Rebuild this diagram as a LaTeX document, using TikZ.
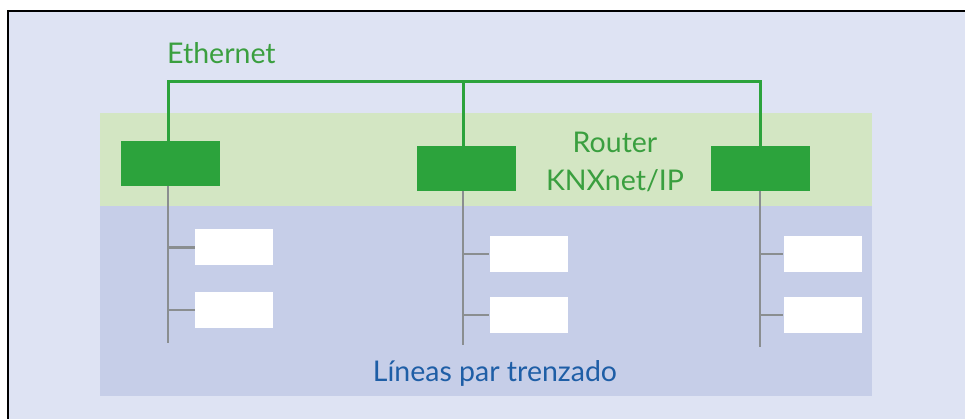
\documentclass[tikz,border=0pt]{standalone}
\usepackage{fontspec}
\setmainfont{Lato}
\definecolor{bgblue}{HTML}{DEE3F3}
\definecolor{bandgreen}{HTML}{D3E6C3}
\definecolor{bandblue}{HTML}{C6CEE8}
\definecolor{knxgreen}{HTML}{2CA33C}
\definecolor{txtgreen}{HTML}{3A9F3F}
\definecolor{txtblue}{HTML}{1E5EA6}
\definecolor{busgrey}{HTML}{8A8E90}
\tikzset{
  router/.style={fill=knxgreen, draw=none, minimum width=99pt, minimum height=45pt, inner sep=0pt},
  device/.style={fill=white, draw=none, minimum width=78pt, minimum height=36pt, inner sep=0pt},
  eth/.style={draw=knxgreen, line width=3pt},
  bus/.style={draw=busgrey, line width=2.6pt},
  lbl/.style={font=\fontsize{28.5}{36}\selectfont, inner sep=0pt}
}
\begin{document}
\begin{tikzpicture}[x=1pt,y=-1pt]
\useasboundingbox (0,0) rectangle (965,419);
\fill[white] (0,0) rectangle (965,419);
\fill[bgblue] (8,11) rectangle (965,419);
\draw[black, line width=2pt] (8,425) -- (8,11) -- (970,11);
\fill[bandgreen] (100,113) rectangle (872,206);
\fill[bandblue] (100,206) rectangle (872,396);

% routers
\node[router] (r1) at (170.5,163.5) {};
\node[router] (r2) at (466.5,168.5) {};
\node[router] (r3) at (760.5,168.5) {};

% ethernet
\coordinate (e1) at (168,82);
\coordinate (e3) at (760,82);
\draw[eth] (r1.north -| e1) -- (e1) -- (e3) -- (r3.north -| e3);
\draw[eth] (463,82) -- (r2.north -| 463,0);

% devices
\node[device] (d11) at (234,247.5) {};
\node[device] (d12) at (234,310) {};
\node[device] (d21) at (528.5,254) {};
\node[device] (d22) at (528.5,315) {};
\node[device] (d31) at (822.5,254) {};
\node[device] (d32) at (822.5,315) {};

% twisted pair lines
\coordinate (b1) at (168,343);
\coordinate (b2) at (463,345);
\coordinate (b3) at (760,347);
\draw[bus] (r1.south -| b1) -- (b1);
\draw[bus] (r2.south -| b2) -- (b2);
\draw[bus] (r3.south -| b3) -- (b3);
\draw[bus] (d11.west -| b1) -- (d11.west);
\draw[bus] (d12.west -| b1) -- (d12.west);
\draw[bus] (d21.west -| b2) -- (d21.west);
\draw[bus] (d22.west -| b2) -- (d22.west);
\draw[bus] (d31.west -| b3) -- (d31.west);
\draw[bus] (d32.west -| b3) -- (d32.west);

% labels
\node[lbl, text=txtgreen, anchor=base west] (eth) at (167,64) {Ethernet};
\node[lbl, text=txtgreen, align=center] (rt) at (615,162) {Router\\[2pt]KNXnet/IP};
\node[lbl, text=txtblue, anchor=base] (tp) at (495,381) {Líneas par trenzado};
\end{tikzpicture}
\end{document}
